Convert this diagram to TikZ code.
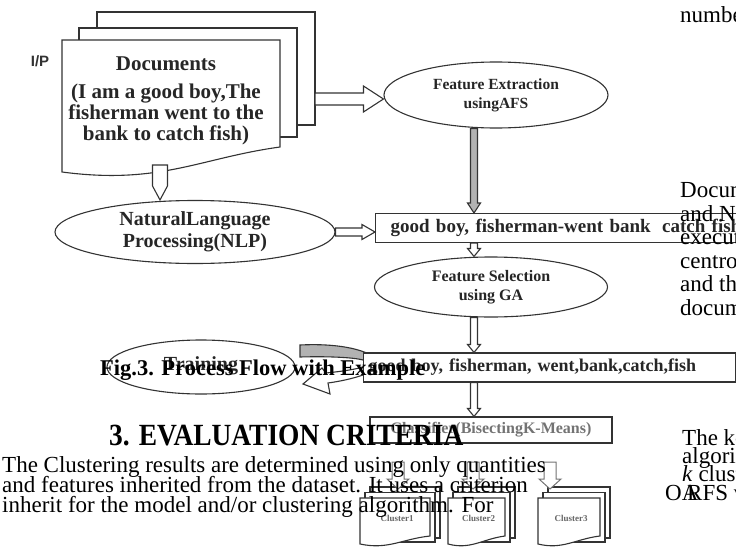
\documentclass[tikz,border=0pt]{standalone}
\usepackage{fontspec}
\setmainfont{Liberation Serif}
\newfontfamily\ipfont{Liberation Sans}
\usetikzlibrary{shapes.geometric,calc}

% outline of the curved feedback arrow (relative to the left end of the second strip)
\newcommand\uturnoutline{(-63,-22.5) .. controls (-23,-24.5) and (7,-17.5) .. (17,-5.5)
  .. controls (18,4.5) and (-13,12.5) .. (-35,15.5) -- (-33,26.5) -- (-60,16.5) -- (-41,0.5)
  -- (-37,5.5) .. controls (-18,3.5) and (5,0.5) .. (5,-4.5)
  .. controls (5,-9.5) and (-28,-11.5) .. (-63,-10.5) -- cycle}

\tikzset{
  ln/.style={line width=1.1pt, draw=black!80},
  sheet/.style={ln, fill=white},
  oval/.style={ellipse, ln, fill=white, inner sep=0pt, align=center, text=black!85},
  strip/.style={rectangle, ln, fill=white, inner sep=0pt, text=black!85},
  body/.style={anchor=base west, inner sep=0pt, font=\fontsize{23}{23}\selectfont},
  % hollow block arrow: half shaft width, half head width, head length
  barrow/.style n args={3}{to path={
    let \p1=(\tikztostart), \p2=(\tikztotarget),
        \n1={veclen(\x2-\x1,\y2-\y1)}, \n2={atan2(\y2-\y1,\x2-\x1)} in
    {[shift={(\p1)}, rotate=\n2]
      (0pt,-#1pt) -- (\n1-#3pt,-#1pt) -- (\n1-#3pt,-#2pt) -- (\n1,0pt)
      -- (\n1-#3pt,#2pt) -- (\n1-#3pt,#1pt) -- (0pt,#1pt) -- cycle}
  }},
  pics/paperstack/.style n args={2}{code={
    \draw[sheet] (10,-11) rectangle (#1+10,40);
    \draw[sheet] (5,-5.5) rectangle (#1+5,44);
    \draw[sheet] (0,0) -- (#1,0) -- (#1,38) .. controls (#1*0.6,41) and (#1*0.4,52) .. (0,46) -- cycle;
    \node[font=\bfseries\fontsize{9}{9}\selectfont, text=black!60] at (#1/2+2,20) {#2};
  }},
}

\begin{document}
\begin{tikzpicture}[x=1pt,y=-1pt]
\useasboundingbox (0,0) rectangle (736,546);
\clip (0,0) rectangle (736,546);

% ---------- input document stack ----------
\draw[sheet] (97,12) rectangle (315,125);
\draw[sheet] (79,28) rectangle (297,137);
\draw[sheet] (62,40) -- (280,40) -- (280,147) .. controls (200,158) and (160,185) .. (62,172) -- cycle;
\node[font=\ipfont\bfseries\fontsize{15}{15}\selectfont, text=black!80] (ip) at (40,61) {I/P};
\node[anchor=base, inner sep=0pt, font=\bfseries\fontsize{21}{21}\selectfont, text=black!85] (doctitle) at (166,70) {Documents};
\node[inner sep=0pt, align=center, font=\bfseries\fontsize{21}{21}\selectfont, text=black!85] (doctext) at (166,114)
  {(I am a good boy,The\\fisherman went to the\\bank to catch fish)};

% ---------- processing stages ----------
\node[oval, minimum width=224pt, minimum height=66pt, font=\bfseries\fontsize{15.5}{19}\selectfont] (fe) at (496,95) {Feature Extraction\\usingAFS};
\node[oval, minimum width=280pt, minimum height=63pt, font=\bfseries\fontsize{20}{22}\selectfont] (nlp) at (195,232) {NaturalLanguage\\Processing(NLP)};
\node[strip, minimum width=390pt, minimum height=29pt, text width=360pt, inner xsep=15pt, align=left, anchor=north west,
      font=\bfseries\fontsize{19}{19}\selectfont] (box1) at (375,213) {good boy, fisherman-went bank\hspace{5pt} catch fish};
\node[oval, minimum width=233pt, minimum height=60pt, font=\bfseries\fontsize{16}{19}\selectfont] (fs) at (491,287) {Feature Selection\\using GA};
\node[oval, minimum width=188pt, minimum height=54pt, font=\bfseries\fontsize{20}{20}\selectfont] (train) at (201,367) {\raisebox{7pt}{Training}};

% curved feedback arrow, partly hidden behind the second strip
\coordinate (b2W) at (363,367.5);
\begin{scope}[shift={(b2W)}]
  \fill[white] \uturnoutline;
  \begin{scope}
    \clip (-70,-30) rectangle (30,-5);
    \fill[black!30] \uturnoutline;
  \end{scope}
  \draw[ln] \uturnoutline;
\end{scope}

\node[strip, minimum width=372pt, minimum height=29pt, text width=362pt, inner xsep=5pt, align=left, anchor=west,
      font=\bfseries\fontsize{18}{18}\selectfont] (box2) at (b2W) {good boy, fisherman, went,bank,catch,fish};
\node[strip, minimum width=242pt, minimum height=26pt, font=\bfseries\fontsize{16}{16}\selectfont, text=black!55] (cls) at (491,430) {Classifier(BisectingK-Means)};

% ---------- output clusters ----------
\pic at (360,498) {paperstack={70}{Cluster1}};
\pic at (448,498) {paperstack={57}{Cluster2}};
\pic at (538,498) {paperstack={62}{Cluster3}};

% ---------- connectors ----------
\coordinate (docR) at (315,99);
\coordinate (feW) at (docR -| fe.west);
\coordinate (docB) at (160,165);
\coordinate (nlpN) at (docB |- nlp.north);
\coordinate (b1W) at (nlp.east -| box1.west);
\coordinate (spine) at (474,0);
\coordinate (a1s) at (spine |- fe.south);
\coordinate (a1e) at (spine |- box1.north);
\coordinate (a2s) at (spine |- box1.south);
\coordinate (a2e) at (spine |- fs.north);
\coordinate (a3s) at (spine |- fs.south);
\coordinate (a3e) at (spine |- box2.north);
\coordinate (a4s) at (spine |- box2.south);
\coordinate (a4e) at (spine |- cls.north);
\coordinate (k1s) at (398,462); \coordinate (k1e) at (398,489);
\coordinate (k2s) at (473,462); \coordinate (k2e) at (473,489);
\coordinate (k3s) at (550,462); \coordinate (k3e) at (550,489);

\draw[ln, fill=white, barrow={6}{13}{20}] (docR) to (feW);
\draw[ln, fill=white, barrow={7.5}{7.5}{14}] (docB) to (nlpN);
\draw[ln, fill=white, barrow={4}{7.5}{13}] (nlp.east) to (b1W);
\draw[ln, fill=black!30, barrow={3.5}{6.5}{10}] (a1s) to (a1e);
\draw[ln, fill=white, barrow={3.5}{6.5}{8}] (a2s) to (a2e);
\draw[ln, fill=white, barrow={3.5}{6.5}{8}] (a3s) to (a3e);
\draw[ln, fill=white, barrow={3.5}{6.5}{8}] (a4s) to (a4e);
\draw[line width=1pt, draw=black!55, fill=white, barrow={6}{11}{10}] (k1s) to (k1e);
\draw[line width=1pt, draw=black!55, fill=white, barrow={6}{11}{10}] (k2s) to (k2e);
\draw[line width=1pt, draw=black!55, fill=white, barrow={6}{11}{10}] (k3s) to (k3e);

% ---------- page text ----------
\node[anchor=base west, inner sep=0pt, font=\bfseries\fontsize{22.5}{22.5}\selectfont] (caption) at (100,375) {Fig.3. Process Flow with Example};
\node[anchor=base west, inner sep=0pt, font=\bfseries\fontsize{28}{28}\selectfont] (heading) at (109,445) {\scalebox{0.98}[1.1]{3. EVALUATION CRITERIA}};
\node[body] (l1) at (2,472) {The Clustering results are determined using only quantities};
\node[body] (l2) at (2,492) {and features inherited from the dataset. It uses a criterion};
\node[body] (l3) at (2,512) {inherit for the model and/or clustering algorithm. For};

\node[body] (r0) at (680,22) {numbe};
\node[body] (r1) at (680,197) {Docum};
\node[body] (r2) at (680,221) {and N};
\node[body] (r3) at (680,244) {execut};
\node[body] (r4) at (680,268) {centro};
\node[body] (r5) at (680,291) {and th};
\node[body] (r6) at (680,315) {docum};
\node[body] (r7) at (682,445) {The k-};
\node[body] (r8) at (682,463) {algorit};
\node[body] (r9) at (682,481) {\textit{k} clust};
\node[body] (r10) at (665,500) {OA};
\node[body] (r11) at (687,500) {RFS v};
\end{tikzpicture}
\end{document}
